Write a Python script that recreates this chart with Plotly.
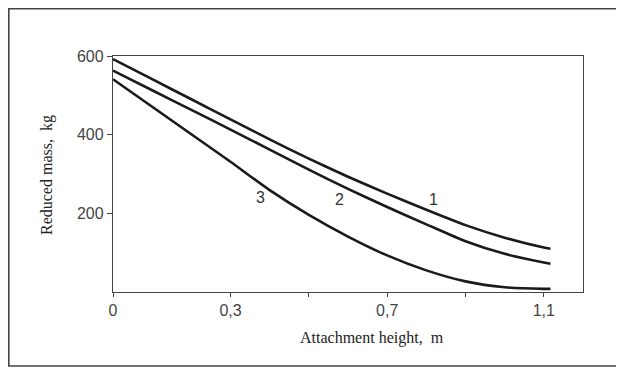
import plotly.graph_objects as go

# Data
height_m = [0.0, 0.1, 0.2, 0.3, 0.4, 0.5, 0.6, 0.7, 0.8, 0.9, 1.0, 1.1, 1.117]
mass_curve1 = [592, 541, 490, 439, 388, 339, 293, 250, 209, 170, 138, 113, 110]
mass_curve2 = [563, 513, 463, 413, 362, 311, 262, 216, 172, 129, 97, 75, 72]
mass_curve3 = [541, 471, 401, 331, 259, 196, 141, 93, 55, 27, 12, 8, 8]

curve_labels = ["1", "2", "3"]
label_x = [0.819, 0.579, 0.377]
label_y = [236, 236, 240]

x_tickvals = [0, 0.3, 0.5, 0.7, 0.9, 1.1]
x_ticktext = ["0", "0,3", "", "0,7", "", "1,1"]
y_tickvals = [200, 400, 600]
y_ticktext = ["200", "400", "600"]

# page body has an 8px margin, so the figure is laid out 8px smaller
W, H = 616, 368
L, R, T, B = 105, 41, 48, 84
PW, PH = W - L - R, H - T - B

fig = go.Figure()
for ys in (mass_curve1, mass_curve2, mass_curve3):
    fig.add_trace(go.Scatter(x=height_m, y=ys, mode="lines",
                             line=dict(color="#1a1a1a", width=2.6, shape="spline", smoothing=0.6),
                             showlegend=False, hoverinfo="skip"))

for t, lx, ly in zip(curve_labels, label_x, label_y):
    fig.add_annotation(x=lx, y=ly, text=t, showarrow=False,
                       font=dict(family="Liberation Sans, Arial, sans-serif", size=16, color="#333333"))

fig.add_annotation(xref="paper", yref="paper", x=(364 - L) / PW, y=(T + PH - 330) / PH,
                   xanchor="center", yanchor="middle",
                   text="Attachment height,\u00a0 m", showarrow=False,
                   font=dict(family="Liberation Serif, Times New Roman, serif", size=16, color="#222222"))
fig.add_annotation(xref="paper", yref="paper", x=(39 - L) / PW, y=(T + PH - 167) / PH,
                   xanchor="center", yanchor="middle", textangle=-90,
                   text="Reduced mass,\u00a0 kg", showarrow=False,
                   font=dict(family="Liberation Serif, Times New Roman, serif", size=16, color="#222222"))

# outer frame of the figure
fig.add_shape(type="rect", xref="paper", yref="paper",
              x0=(0.8 - L) / PW, x1=(611 - L) / PW,
              y0=(T + PH - 358) / PH, y1=(T + PH - 0.8) / PH,
              line=dict(color="#444444", width=1.6), fillcolor="rgba(0,0,0,0)", layer="below")

axis_font = dict(family="Liberation Sans, Arial, sans-serif", size=16, color="#444444")
fig.update_layout(
    width=W, height=H,
    margin=dict(l=L, r=R, t=T, b=B),
    paper_bgcolor="white", plot_bgcolor="white",
    xaxis=dict(range=[0, 1.2], tickvals=x_tickvals, ticktext=x_ticktext,
               ticks="outside", ticklen=4, tickcolor="#444444", tickfont=axis_font,
               showline=True, linecolor="#444444", linewidth=1.4, mirror=True,
               showgrid=False, zeroline=False),
    yaxis=dict(range=[0, 600], tickvals=y_tickvals, ticktext=y_ticktext,
               ticks="outside", ticklen=5, tickcolor="#444444", tickfont=axis_font,
               showline=True, linecolor="#444444", linewidth=1.4, mirror=True,
               showgrid=False, zeroline=False),
)

fig.write_html("out.html")
